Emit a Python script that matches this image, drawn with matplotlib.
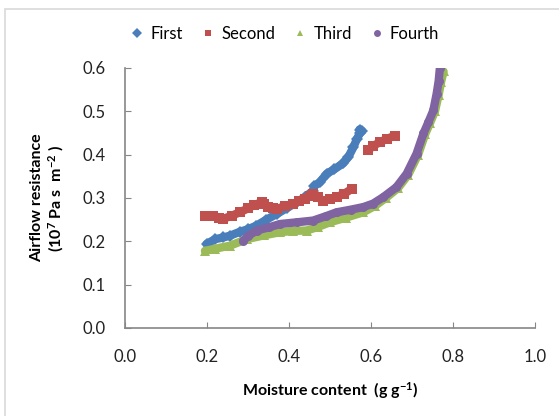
import numpy as np
import matplotlib.pyplot as plt
from matplotlib.patches import Rectangle
from matplotlib.lines import Line2D

plt.rcParams['font.family'] = ['Lato', 'DejaVu Sans']
plt.rcParams['mathtext.default'] = 'regular'

# Series (moisture content g/g, airflow resistance 10^7 Pa s m^-2)
first_x = [0.199, 0.22, 0.24, 0.256, 0.28, 0.30, 0.32, 0.345, 0.37, 0.395, 0.419, 0.44,
           0.459, 0.462, 0.475, 0.492, 0.51, 0.532, 0.545, 0.557, 0.565, 0.573, 0.578, 0.572]
first_y = [0.194, 0.205, 0.209, 0.213, 0.222, 0.228, 0.236, 0.25, 0.263, 0.277, 0.29, 0.303,
           0.317, 0.328, 0.336, 0.356, 0.366, 0.38, 0.395, 0.417, 0.435, 0.45, 0.455, 0.458]

# gap in the second run marked with nan
second_x = [0.195, 0.215, 0.23, 0.24, 0.26, 0.28, 0.30, 0.315, 0.333, 0.34, 0.349, 0.36, 0.37,
            0.39, 0.41, 0.425, 0.439, 0.45, 0.459, 0.47, 0.483, 0.50, 0.516, 0.535, 0.553,
            np.nan, 0.593, 0.605, 0.622, 0.64, 0.659]
second_y = [0.259, 0.259, 0.255, 0.252, 0.259, 0.267, 0.276, 0.284, 0.29, 0.287, 0.279, 0.276, 0.275,
            0.281, 0.287, 0.292, 0.298, 0.305, 0.31, 0.302, 0.294, 0.297, 0.302, 0.31, 0.321,
            np.nan, 0.41, 0.42, 0.429, 0.437, 0.444]

third_x = [0.195, 0.22, 0.256, 0.297, 0.34, 0.378, 0.41, 0.443, 0.47, 0.5, 0.54, 0.581, 0.61,
           0.636, 0.666, 0.691, 0.715, 0.732, 0.744, 0.756, 0.765, 0.771, 0.777]
third_y = [0.178, 0.183, 0.19, 0.205, 0.214, 0.221, 0.224, 0.225, 0.233, 0.244, 0.255, 0.267, 0.282,
           0.3, 0.323, 0.354, 0.4, 0.447, 0.473, 0.5, 0.538, 0.568, 0.592]

fourth_x = [0.288, 0.30, 0.321, 0.35, 0.378, 0.42, 0.459, 0.49, 0.516, 0.55, 0.581, 0.605, 0.63,
            0.662, 0.687, 0.711, 0.728, 0.74, 0.752, 0.76, 0.765, 0.768]
fourth_y = [0.201, 0.212, 0.225, 0.232, 0.24, 0.244, 0.248, 0.258, 0.267, 0.273, 0.279, 0.287, 0.302,
            0.325, 0.356, 0.402, 0.449, 0.475, 0.502, 0.54, 0.57, 0.6]

labels = ['First', 'Second', 'Third', 'Fourth']
colors = ['#4A7EBB', '#C0504D', '#9BBB59', '#8064A2']
markers = ['D', 's', '^', 'o']
xticks = [0.0, 0.2, 0.4, 0.6, 0.8, 1.0]
yticks = [0.0, 0.1, 0.2, 0.3, 0.4, 0.5, 0.6]

fig = plt.figure(figsize=(5.59, 4.16), dpi=100)
ax = fig.add_axes([125/559, 1-328/416, 410/559, 260/416])

# light frame around the chart area
fig.add_artist(Rectangle((5/559, -0.1), 1.1, 1.1 - 9/416, transform=fig.transFigure,
                         fill=False, edgecolor='#D9D9D9', lw=1.2))

series = [(first_x, first_y), (second_x, second_y), (third_x, third_y), (fourth_x, fourth_y)]
for i, (x, y) in enumerate(series):
    ax.plot(x, y, color=colors[i], lw=6, solid_capstyle='round',
            marker=markers[i], ms=6.5, markeredgewidth=0, zorder=3 + i)

ax.set_xlim(0, 1.0)
ax.set_ylim(0, 0.6)
ax.set_xticks(xticks)
ax.set_yticks(yticks)
ax.set_xticklabels([f'{v:.1f}' for v in xticks])
ax.set_yticklabels([f'{v:.1f}' for v in yticks])
for s in ['top', 'right']:
    ax.spines[s].set_visible(False)
for s in ['left', 'bottom']:
    ax.spines[s].set_color('#868686')
    ax.spines[s].set_linewidth(1.2)
ax.tick_params(axis='both', direction='in', length=4, color='#868686', labelsize=12,
               labelcolor='#222222')
ax.tick_params(axis='x', pad=15)
ax.tick_params(axis='y', pad=14)

ax.set_xlabel('Moisture content  (g g$^{-1}$)', fontsize=11.5, fontweight='bold', labelpad=11)
ax.set_ylabel('Airflow resistance\n(10$^7$ Pa s  m$^{-2}$ )', fontsize=11.5, fontweight='bold',
              labelpad=12, linespacing=1.1)

handles = [Line2D([], [], ls='none', marker=markers[i], color=colors[i], ms=5, markeredgewidth=0)
           for i in range(4)]
fig.legend(handles, labels, loc='center', bbox_to_anchor=(284/559, 1-34/416), ncol=4,
           frameon=False, fontsize=12, handletextpad=0.3, columnspacing=1.0, handlelength=1.0)

fig.savefig('out.png', dpi=100)
